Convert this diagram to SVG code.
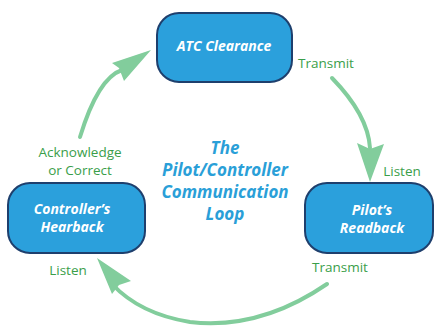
<svg xmlns="http://www.w3.org/2000/svg" width="436" height="327" viewBox="0 0 436 327">
<style>
.box{fill:#2ba0dc;stroke:#1e3f6d;stroke-width:2}
.bt{font-family:"Open Sans","Noto Sans",sans-serif;font-weight:bold;font-style:italic;font-size:14px;fill:#ffffff;text-anchor:middle}
.lbl{font-family:"Open Sans","Noto Sans",sans-serif;font-size:13.5px;fill:#3a9e4a;text-anchor:middle}
.title{font-family:"Open Sans","Noto Sans",sans-serif;font-weight:bold;font-style:italic;font-size:17px;fill:#2a9fd8;text-anchor:middle}
.arc{fill:none;stroke:#82cd9c;stroke-width:4;stroke-linecap:round}
.head{fill:#82cd9c}
</style>
<rect width="436" height="327" fill="#ffffff"/>
<g id="connectors">
<path class="arc" d="M80,137 Q98,78 122,70"/>
<path class="head" d="M151,50 L112,63 L119,68 L124,81 Z"/>
<path class="arc" d="M332,78 Q368,115 370,148"/>
<path class="head" d="M370,182 L357,143 L370,149 L384,144 Z"/>
<path class="arc" d="M327,284 Q260,330 190,322 Q140,314 112,284"/>
<path class="head" d="M97,258 L131,281 L119,285 L112,294 Z"/>
</g>
<g id="atc">
<rect class="box" x="157" y="13" width="135" height="69" rx="22"/>
<text class="bt" x="224" y="51">ATC Clearance</text>
</g>
<g id="readback">
<rect class="box" x="305" y="183" width="128" height="70" rx="22"/>
<text class="bt" x="372" y="215">Pilot’s</text>
<text class="bt" x="372" y="233">Readback</text>
</g>
<g id="hearback">
<rect class="box" x="8" y="183" width="137" height="70" rx="22"/>
<text class="bt" x="72" y="214">Controller’s</text>
<text class="bt" x="72" y="232">Hearback</text>
</g>
<g id="title">
<text class="title" x="225" y="154">The</text>
<text class="title" x="225" y="176">Pilot/Controller</text>
<text class="title" x="225" y="198">Communication</text>
<text class="title" x="225" y="220">Loop</text>
</g>
<g id="labels">
<text class="lbl" x="326" y="68">Transmit</text>
<text class="lbl" x="402" y="176">Listen</text>
<text class="lbl" x="340" y="272">Transmit</text>
<text class="lbl" x="68" y="275">Listen</text>
<text class="lbl" x="80" y="157">Acknowledge</text>
<text class="lbl" x="80" y="175">or Correct</text>
</g>
</svg>
